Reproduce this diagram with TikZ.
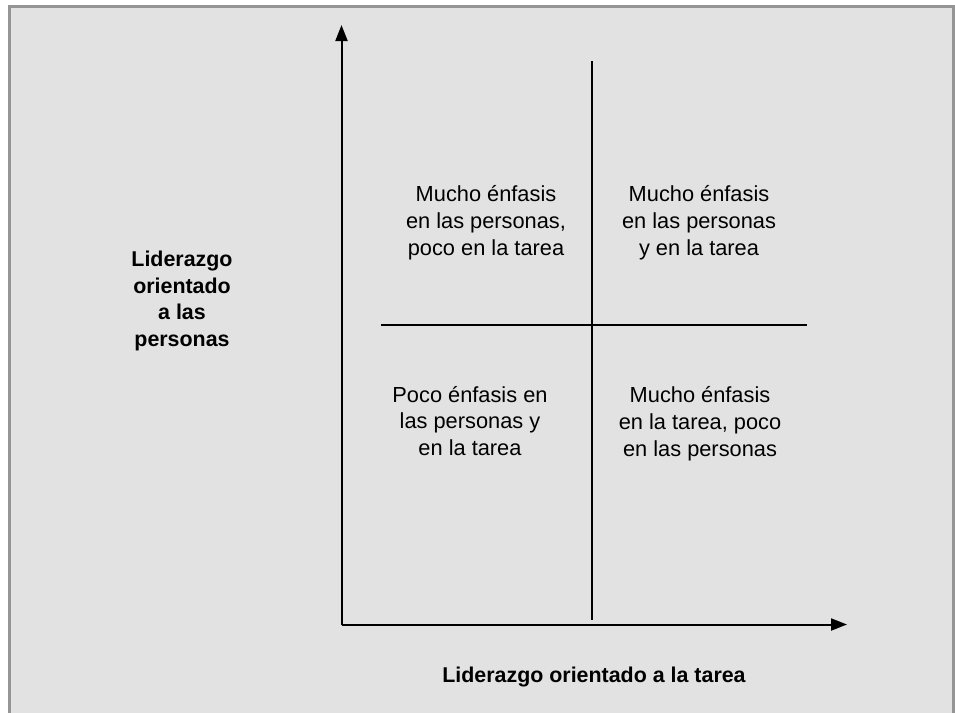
\documentclass[tikz,border=0pt]{standalone}
\usepackage{fontspec}
\setmainfont{Liberation Sans}
\usetikzlibrary{arrows.meta}

\definecolor{panelgray}{HTML}{E2E2E2}
\definecolor{framegray}{HTML}{959595}

\begin{document}
\begin{tikzpicture}[x=1pt, y=-1pt]

        % Styles for the axes, the dividing lines and the labels
        \tikzset{
            axis/.style={line width=2pt, -{Triangle[length=16pt, width=12pt]}},
            divider/.style={line width=2pt},
            quadtext/.style={align=center, font=\fontsize{21.8}{26.8}\selectfont, inner sep=0pt},
            axislabel/.style={align=center, font=\fontsize{21.4}{26.8}\selectfont\bfseries, inner sep=0pt}
        }

        \useasboundingbox (0,0) rectangle (955,712);

        % --- Panel with grey frame ---
        \draw[framegray, line width=3pt, fill=panelgray] (9.5,6.5) rectangle (953.5,716);

        % --- Axes ---
        \coordinate (origin) at (341.5,624.5);
        \coordinate (ytop) at (341.5,25);
        \coordinate (xend) at (847,624.5);
        \draw[axis] (origin) -- (ytop);
        \draw[axis] (origin) -- (xend);

        % --- Quadrant dividers ---
        \coordinate (vtop) at (592.3,61);
        \coordinate (vbot) at (592.3,620);
        \coordinate (hleft) at (381,325);
        \coordinate (hright) at (807,325);
        \draw[divider] (vtop) -- (vbot);
        \draw[divider] (hleft) -- (hright);

        % --- Quadrant labels ---
        \node[quadtext] (topleft) at (486,223) {Mucho énfasis\\en las personas,\\poco en la tarea};
        \node[quadtext] (topright) at (699,223) {Mucho énfasis\\en las personas\\y en la tarea};
        \node[quadtext] (botleft) at (470,421) {Poco énfasis en\\las personas y\\en la tarea};
        \node[quadtext] (botright) at (700,424) {Mucho énfasis\\en la tarea, poco\\en las personas};

        % --- Axis labels ---
        \node[axislabel] (ylabel) at (182,301) {Liderazgo\\orientado\\a las\\personas};
        \node[axislabel] (xlabel) at (594,677) {Liderazgo orientado a la tarea};

\end{tikzpicture}
\end{document}
